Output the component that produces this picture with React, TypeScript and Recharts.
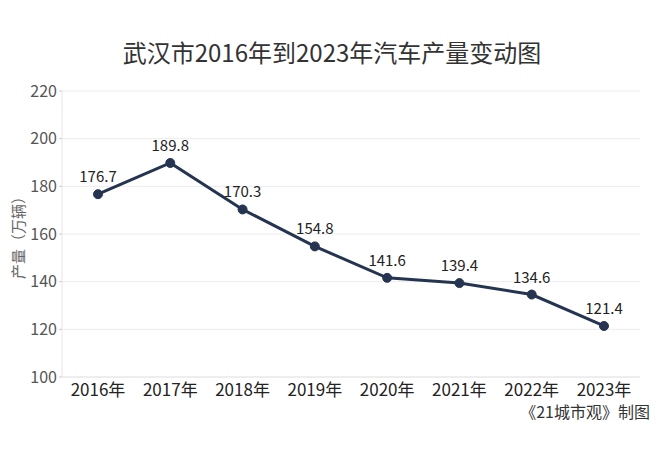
import React from 'react';
import { LineChart, Line, XAxis, YAxis, CartesianGrid, LabelList } from 'recharts';

const years = ['2016年', '2017年', '2018年', '2019年', '2020年', '2021年', '2022年', '2023年'];
const output = [176.7, 189.8, 170.3, 154.8, 141.6, 139.4, 134.6, 121.4];
const yTicks = [100, 120, 140, 160, 180, 200, 220];

const data = years.map((year, i) => ({ year, value: output[i] }));

const FONT = '"Noto Sans CJK SC", "Noto Sans", sans-serif';

export default function App() {
    return (
        <div style={{ position: 'absolute', left: 0, top: 0, width: 660, height: 451, background: '#fff', fontFamily: FONT }}>
            <div style={{ position: 'absolute', left: 0, top: 34, width: 664, textAlign: 'center', fontSize: 24, color: '#333' }}>
                武汉市2016年到2023年汽车产量变动图
            </div>
            <LineChart width={660} height={451} data={data} margin={{ top: 91, right: 20, bottom: 44, left: 0 }}>
                <CartesianGrid vertical={false} stroke="#ececec" />
                <XAxis
                    dataKey="year"
                    height={30}
                    padding={{ left: 36, right: 36 }}
                    tickLine={false}
                    axisLine={{ stroke: '#e6e6e6' }}
                    tick={{ fill: '#222', fontSize: 17, fontFamily: FONT }}
                    tickMargin={1}
                    interval={0}
                />
                <YAxis
                    width={62}
                    domain={[100, 220]}
                    ticks={yTicks}
                    tickSize={3}
                    tickLine={{ stroke: '#ccc' }}
                    axisLine={{ stroke: '#e6e6e6' }}
                    tick={{ fill: '#555', fontSize: 16, fontFamily: FONT }}
                    label={{ value: '产量（万辆）', angle: -90, position: 'insideLeft', offset: 19, fill: '#666', fontSize: 15, fontFamily: FONT, style: { textAnchor: 'middle' } }}
                />
                <Line
                    dataKey="value"
                    stroke="#253451"
                    strokeWidth={3}
                    dot={{ r: 4.5, fill: '#253451', stroke: '#253451', strokeWidth: 1 }}
                    isAnimationActive={false}
                >
                    <LabelList dataKey="value" position="top" offset={12} fill="#222" fontSize={15} fontFamily={FONT} />
                </Line>
            </LineChart>
            <div style={{ position: 'absolute', right: 10, top: 401, fontSize: 16, color: '#333', lineHeight: '20px' }}>
                《21城市观》制图
            </div>
        </div>
    );
}
